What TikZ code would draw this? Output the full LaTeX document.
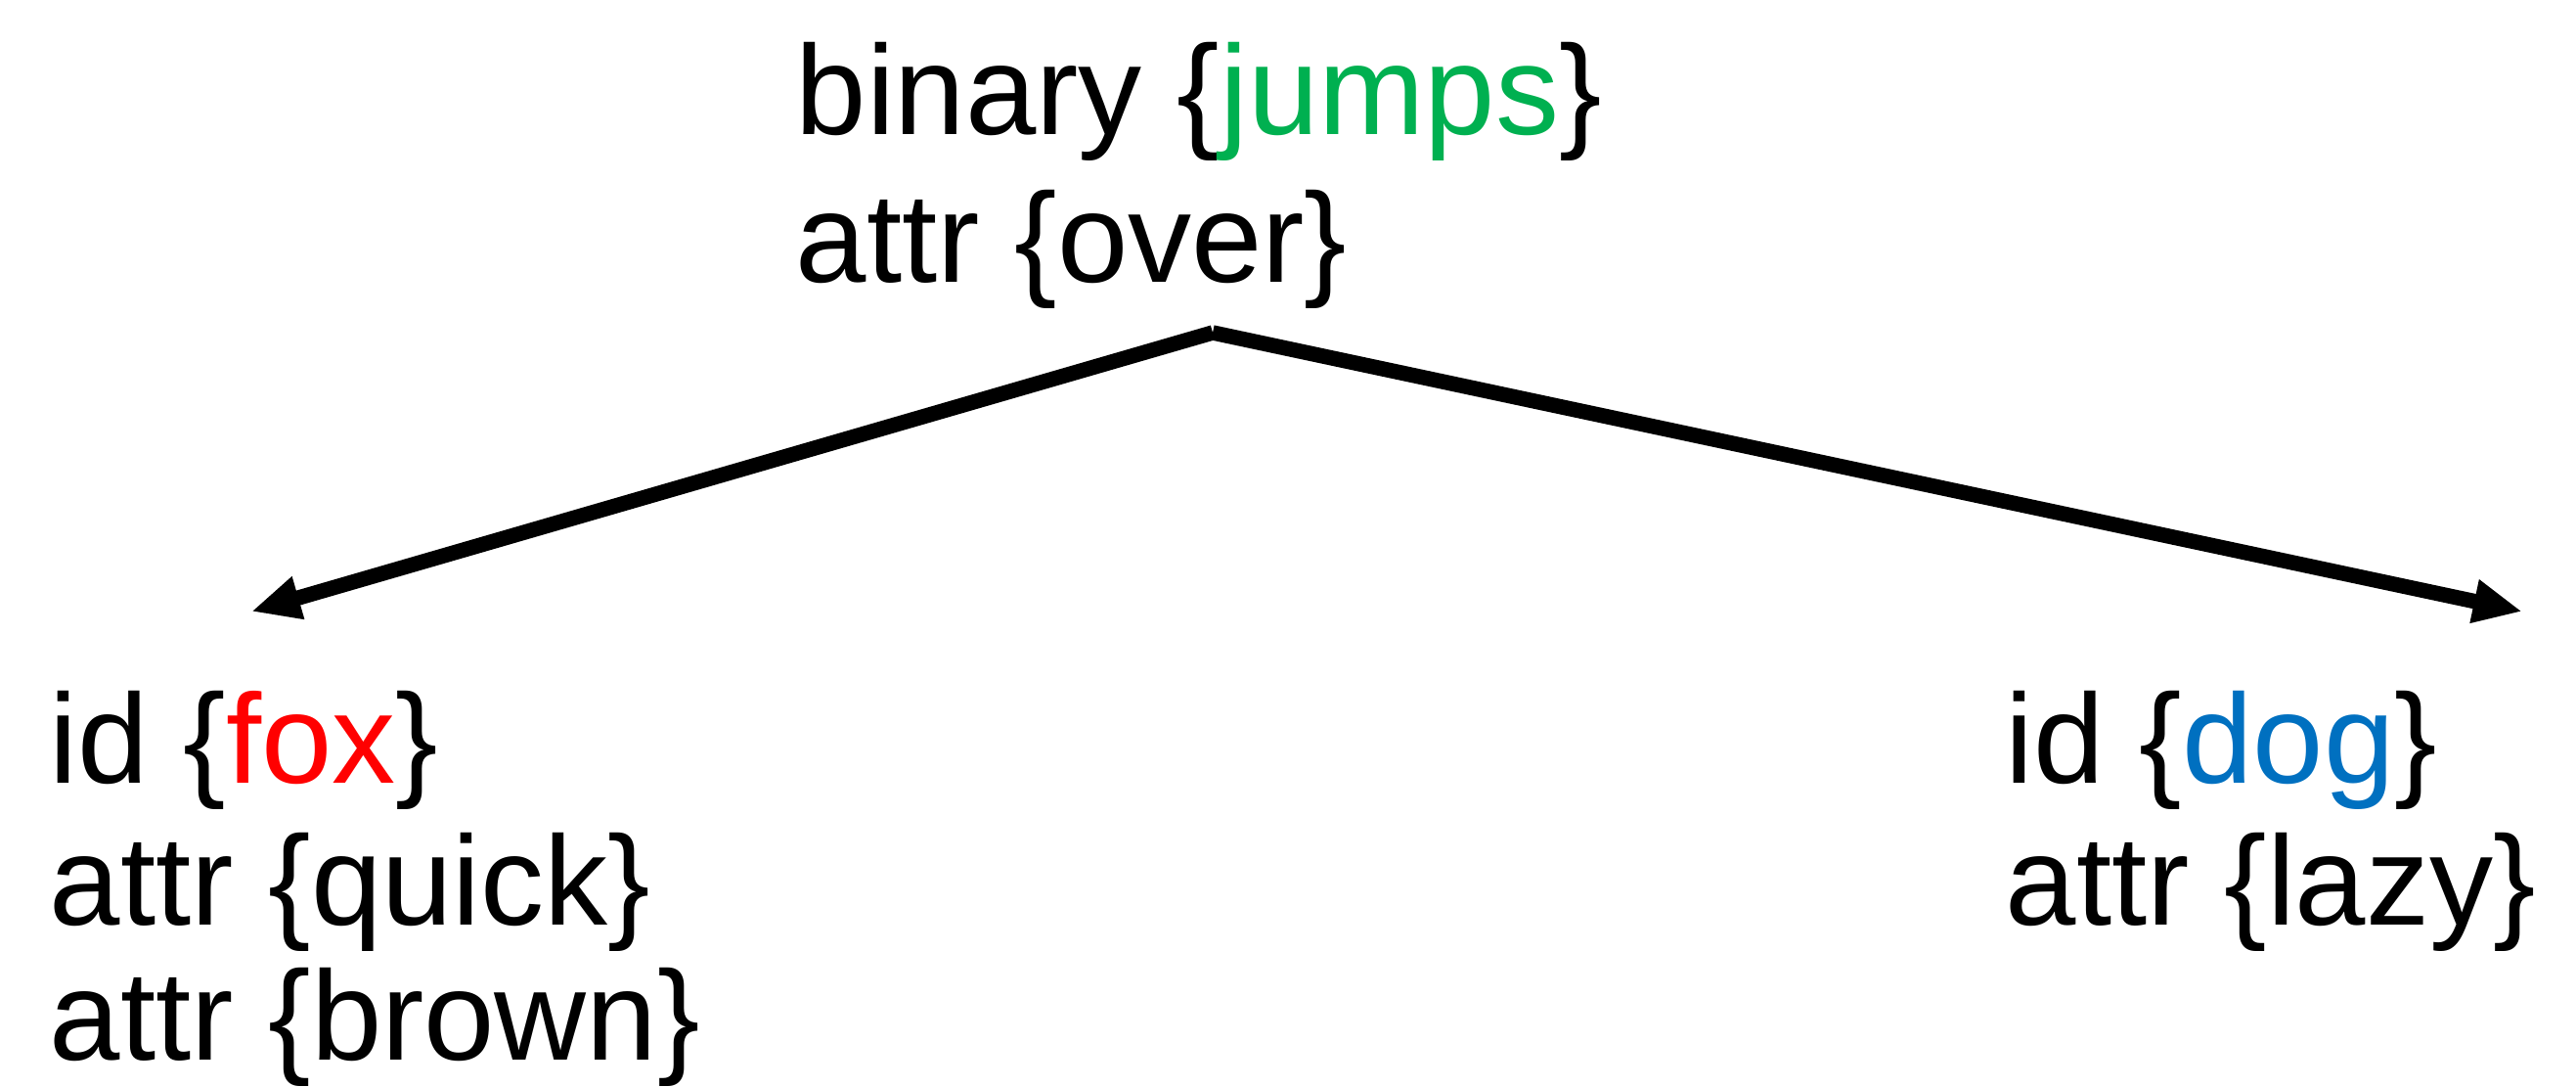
\documentclass[tikz,border=0pt]{standalone}
\usepackage{fontspec}
\setmainfont{Liberation Sans}
\usetikzlibrary{positioning,arrows.meta}
\definecolor{verb}{RGB}{0,176,80}
\definecolor{subj}{RGB}{255,0,0}
\definecolor{obj}{RGB}{0,112,192}

\begin{document}
\begin{tikzpicture}[
    term/.style={anchor=base west, inner sep=0pt, font=\fontsize{37}{44}\selectfont},
    edge/.style={line width=4.4pt, -{Triangle[length=0.5cm,width=0.42cm]}}]
  \useasboundingbox (0,0) rectangle (26.34,11.11);
  % head of the tree
  \node[term] (jumps) at (8.13,9.73) {binary \{\textcolor{verb}{jumps}\}};
  \node[term] (over) at (8.13,8.22) {attr \{over\}};
  % the two leaves
  \node[term] (foxid) at (0.50,3.10) {id \{\textcolor{subj}{fox}\}};
  \node[term] (quick) at (0.50,1.65) {attr \{quick\}};
  \node[term] (brown) at (0.50,0.27) {attr \{brown\}};
  \node[term] (dogid) at (20.50,3.10) {id \{\textcolor{obj}{dog}\}};
  \node[term] (lazy) at (20.50,1.65) {attr \{lazy\}};
  \coordinate (apex) at (12.40,7.71);
  \coordinate (foxtip) at (2.57,4.86);
  \coordinate (dogtip) at (25.79,4.86);
  \draw[edge] (apex) -- (foxtip);
  \draw[edge] (apex) -- (dogtip);
\end{tikzpicture}
\end{document}
